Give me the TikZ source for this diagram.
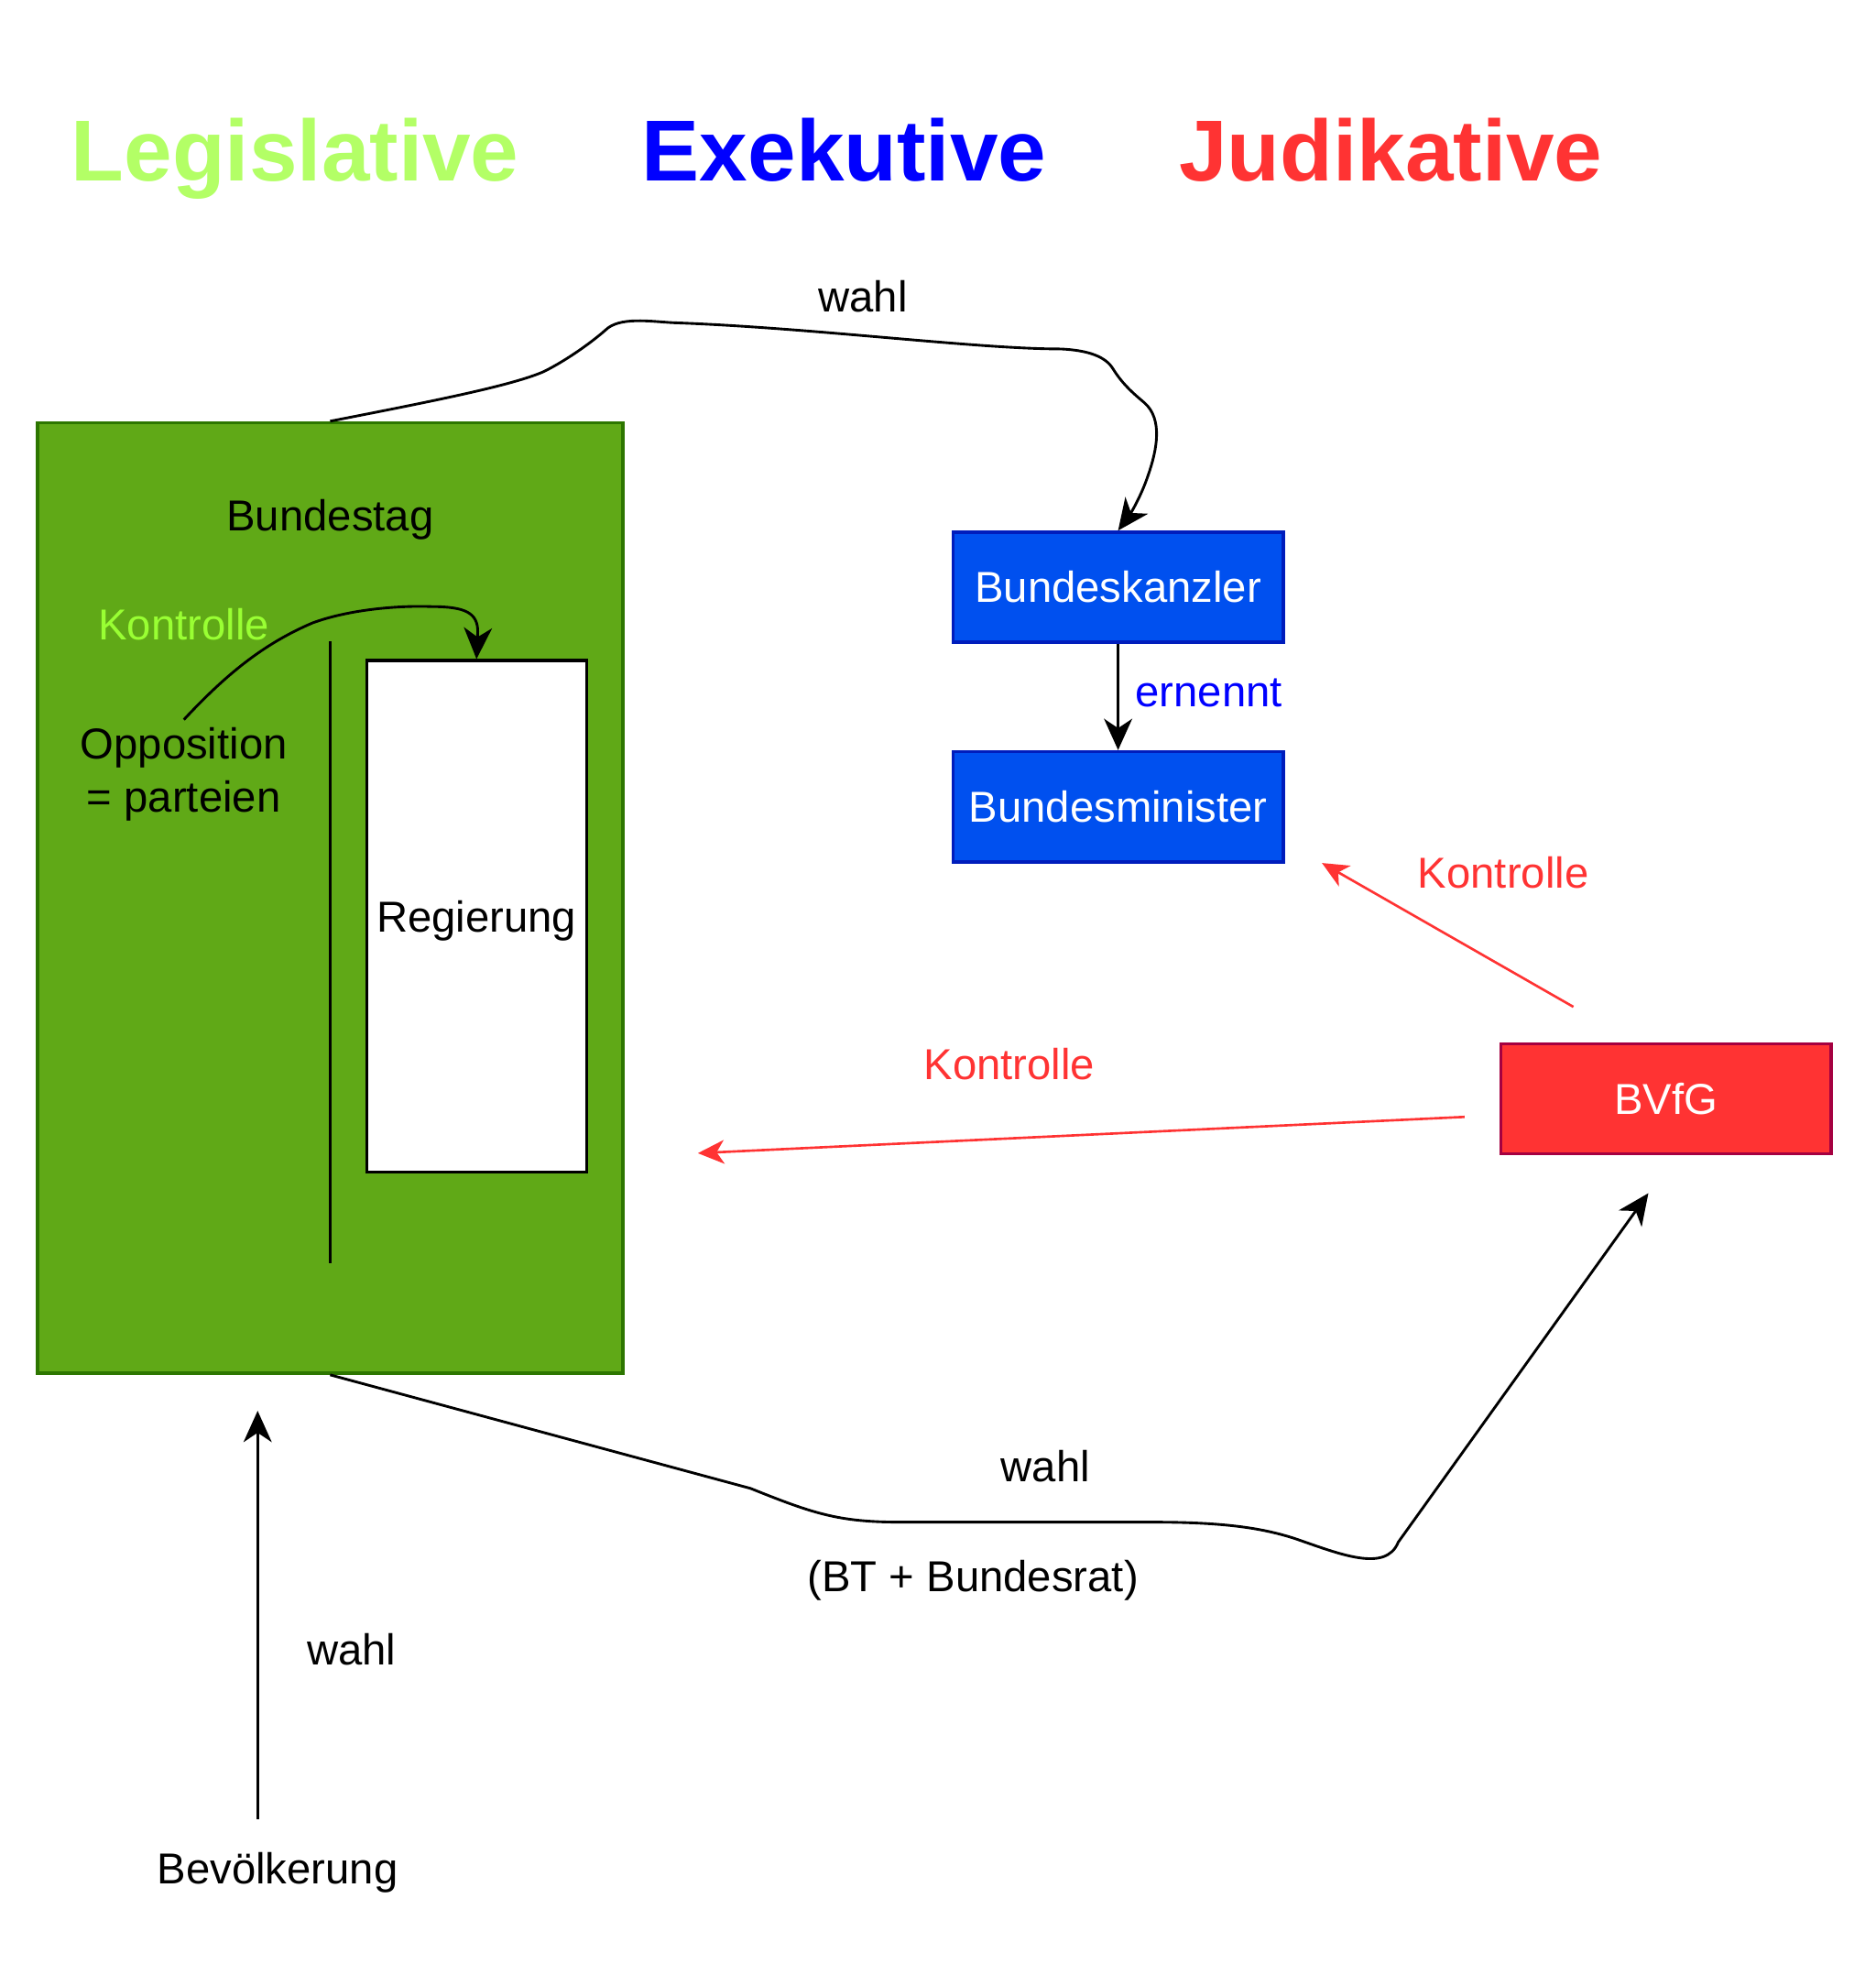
\documentclass[tikz,border=0pt]{standalone}
\usepackage{fontspec}
\setmainfont{Liberation Sans}
\usepackage{xcolor}
\usetikzlibrary{arrows.meta}
\definecolor{btgruen}{HTML}{60A917}
\definecolor{btrand}{HTML}{2D7600}
\definecolor{hellgruen}{HTML}{B3FF66}
\definecolor{kontrgruen}{HTML}{99FF33}
\definecolor{exblau}{HTML}{0000FF}
\definecolor{amtblau}{HTML}{0050EF}
\definecolor{amtrand}{HTML}{001DBC}
\definecolor{rot}{HTML}{FF3333}
\definecolor{rotrand}{HTML}{A50040}

\begin{document}
\begin{tikzpicture}[x=0.02cm, y=-0.02cm,
  every node/.style={font=\fontsize{19.7}{24.2}\selectfont},
  titel/.style={font=\fontsize{39.4}{47}\selectfont\bfseries, anchor=base},
  ohnetiefe/.style={text depth=0pt},
  amt/.style={draw=amtrand, fill=amtblau, line width=1.5pt, text=white,
    minimum width=5.28cm, minimum height=1.76cm},
  pfeil/.style={line width=1.2pt, -{Stealth[length=0.5cm, width=0.45cm, inset=0.15cm]}},
  rotpfeil/.style={draw=rot, line width=1.1pt, -{Stealth[length=0.42cm, width=0.38cm, inset=0.12cm]}}]
\useasboundingbox (0,0) rectangle (1500,1570.3);

% titles
\node[titel, text=hellgruen] (leg) at (236,145) {Legislative};
\node[titel, text=exblau] (exe) at (675,145) {Exekutive};
\node[titel, text=rot] (jud) at (1112,145) {Judikative};

% Bundestag
\node[draw=btrand, fill=btgruen, line width=1.5pt, minimum width=9.36cm, minimum height=15.2cm] (bt) at (264,718) {};
\node[ohnetiefe] (btname) at (264,412) {Bundestag};
\draw[line width=1.3pt] (264,513) -- (264,1010);
\node[draw, fill=white, line width=1.3pt, minimum width=3.52cm, minimum height=8.18cm, ohnetiefe] (reg) at (381,732.5) {Regierung};
\node[align=center] (opp) at (147,619) {Opposition\\= parteien};
\node[text=kontrgruen] (kontr1) at (147,499) {Kontrolle};
\draw[pfeil] (opp.north) .. controls (180,540) and (210,515) .. (250,498)
  .. controls (280,487) and (320,484) .. (345,485)
  .. controls (372,485) and (382,490) .. (382,505) -- (reg.north);

% Exekutive
\node[amt] (bk) at (894,469.5) {Bundeskanzler};
\node[amt] (bm) at (894,645) {Bundesminister};
\draw[pfeil] (bk) -- (bm) node[midway, right=4pt, yshift=2pt, text=exblau] {ernennt};

\draw[pfeil] (bt.north) .. controls (350,320) and (410,308) .. (435,297)
  .. controls (455,287) and (475,272) .. (484,264)
  .. controls (495,253) and (520,257) .. (538,258)
  .. controls (650,262) and (780,279) .. (848,279)
  .. controls (870,280) and (884,285) .. (890,295)
  .. controls (898,308) and (908,316) .. (915,322)
  .. controls (930,335) and (925,360) .. (918,380)
  .. controls (912,398) and (903,412) .. (bk.north);
\node (wahl1) at (690,237) {wahl};

% Judikative
\node[amt, draw=rotrand, fill=rot] (bvfg) at (1332,878.5) {BVfG};
\coordinate (k1s) at (1258,805);
\coordinate (k1e) at (1057,690);
\draw[rotpfeil] (k1s) -- (k1e);
\node[text=rot] (kontr2) at (1202,698) {Kontrolle};
\coordinate (k2s) at (1171,893);
\coordinate (k2e) at (558,922);
\draw[rotpfeil] (k2s) -- (k2e);
\node[text=rot] (kontr3) at (807,851) {Kontrolle};

% wahl BVfG
\coordinate (bvw) at (1318,954);
\draw[pfeil] (bt.south) -- (600,1190)
  .. controls (650,1210) and (670,1217) .. (720,1217) -- (922,1217)
  .. controls (980,1217) and (1010,1222) .. (1035,1230)
  .. controls (1070,1242) and (1108,1258) .. (1118,1233) -- (bvw);
\node (wahl2) at (836,1172) {wahl};
\node[ohnetiefe] (btbr) at (778,1260) {(BT + Bundesrat)};

% Bevoelkerung
\node[ohnetiefe] (bev) at (222,1494) {Bevölkerung};
\coordinate (bvoben) at (206,1128);
\draw[pfeil, shorten <=0.42cm] (bev.north -| bvoben) -- (bvoben);
\node (wahl3) at (281,1319) {wahl};
\end{tikzpicture}
\end{document}
